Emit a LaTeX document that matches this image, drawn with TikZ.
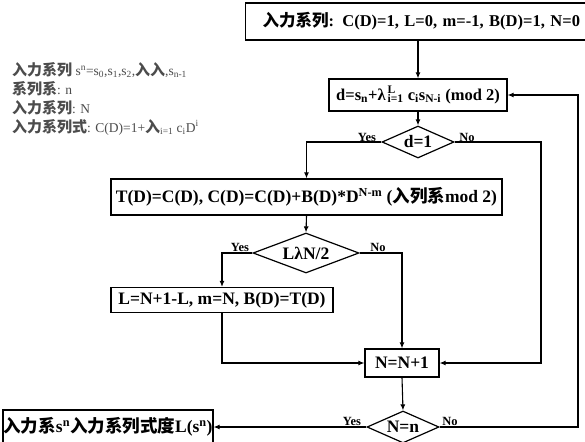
\documentclass[tikz,border=0pt]{standalone}
\usepackage{fontspec}
\setmainfont{Liberation Serif}
\newfontfamily\cjk{Noto Sans CJK SC}
\usetikzlibrary{shapes.geometric,arrows.meta}
\newcommand\zh[1]{{\cjk\bfseries #1}}
\newcommand\zhs[1]{{\cjk\bfseries\fontsize{15}{15}\selectfont #1}}
\newcommand\sps[1]{\textsuperscript{#1}}
\newcommand\sbs[1]{\textsubscript{#1}}
\tikzset{
 box/.style={draw,line width=1.2pt,inner sep=0pt,font=\fontsize{17.5}{19}\selectfont\bfseries},
 dia/.style={draw,diamond,line width=1.2pt,inner sep=0pt,shape aspect=2.5,font=\fontsize{17.5}{19}\selectfont\bfseries},
 arr/.style={line width=1.1pt,-{Latex[length=6pt,width=5pt]}},
 lab/.style={font=\fontsize{12.5}{13}\selectfont\bfseries,inner sep=0pt},
 side/.style={anchor=west,inner sep=0pt,font=\fontsize{13.5}{14}\selectfont,text=black!70}
}
\begin{document}
\begin{tikzpicture}[x=1pt,y=-1pt]
\clip (0,0) rectangle (585,441);
\fill[white] (0,0) rectangle (585,441);
% left notes
\node[side] (n1) at (12,70) {\zhs{入力系列} s\sps{n}=s\sbs{0},s\sbs{1},s\sbs{2},\zhs{入入},s\sbs{n-1}};
\node[side] (n2) at (12,89) {\zhs{系列系}: n};
\node[side] (n3) at (12,108) {\zhs{入力系列}: N};
\node[side] (n4) at (12,127) {\zhs{入力系列式}: C(D)=1+\zhs{入}\sbs{i=1} c\sbs{i}D\sps{i}};
% main nodes
\node[box,anchor=west,minimum height=37pt,text width=345pt,align=left,inner xsep=17pt,font=\fontsize{16.5}{18}\selectfont\bfseries] (top) at (245,21.5) {\zh{入力系列}: C(D)=1, L=0, m=-1, B(D)=1, N=0};
\node[box,minimum width=178pt,minimum height=32pt,font=\fontsize{16.5}{18}\selectfont\bfseries] (dbox) at (418,95) {d=s\sbs{n}+λ\kern2pt\rlap{\sps{L}}\sbs{i=1} c\sbs{i}s\sbs{N-i} (mod 2)};
\node[dia,minimum width=72pt,minimum height=32pt] (d1) at (418,142) {d=1};
\node[box,minimum width=391pt,minimum height=36pt] (T) at (306.5,197) {T(D)=C(D), C(D)=C(D)+B(D)*D\sps{N-m} (\zh{入列系}mod 2)};
\node[dia,minimum width=106pt,minimum height=40pt] (Ld) at (306,253) {LλN/2};
\node[box,minimum width=222pt,minimum height=25pt] (Lbox) at (222,300) {L=N+1-L, m=N, B(D)=T(D)};
\node[box,minimum width=74pt,minimum height=28pt] (Nbox) at (402,363) {N=N+1};
\node[dia,minimum width=72pt,minimum height=32pt] (Nn) at (403,427) {N=n};
\node[box,minimum width=210pt,minimum height=34pt] (End) at (108,427) {\zh{入力系}s\sps{n}\zh{入力系列式度}L(s\sps{n})};
\coordinate (cR) at (541,363);
\coordinate (cRR) at (578,250);
% connectors
\draw[arr] (dbox.north |- top.south) -- (dbox.north);
\draw[arr] (dbox.south) -- (d1.north);
\draw[arr] (d1.west) -| (T.north);
\draw[arr] (d1.east) -| (cR) -- (Nbox.east);
\draw[arr] (T.south) -- (Ld.north);
\draw[arr] (Ld.west) -| (Lbox.north);
\draw[arr] (Ld.east) -| (Nbox.north);
\draw[arr] (Lbox.south) |- (Nbox.west);
\draw[arr] (Nbox.south) -- (Nn.north);
\draw[arr] (Nn.west) -- (End.east);
\draw[arr] (Nn.east) -| (cRR) |- (dbox.east);
% labels
\node[lab] (y1) at (367,137) {Yes};
\node[lab] (no1) at (467,137) {No};
\node[lab] (y2) at (240,247) {Yes};
\node[lab] (no2) at (378,247) {No};
\node[lab] (y3) at (352,421) {Yes};
\node[lab] (no3) at (450,421) {No};
\end{tikzpicture}
\end{document}
